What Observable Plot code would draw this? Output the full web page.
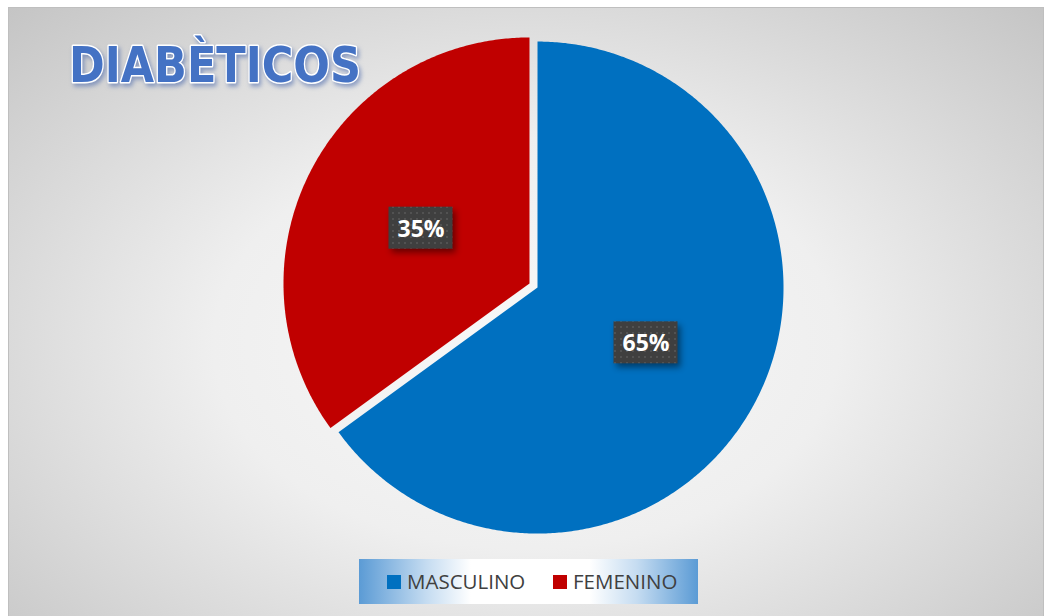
<!DOCTYPE html>
<html><head><meta charset="utf-8">
<script src="https://cdn.jsdelivr.net/npm/d3@7"></script>
<script src="https://cdn.jsdelivr.net/npm/@observablehq/plot@0.6"></script>
<style>
body{margin:0;background:#fff;}
#wrap{position:relative;width:1048px;height:616px;overflow:hidden;}
#bg{position:absolute;left:8px;top:7px;width:1036px;height:612px;border:1px solid #bfbfbf;box-sizing:border-box;
 background:radial-gradient(ellipse 72% 80% at 50% 55%, #f8f8f8 0%, #efefef 42%, #c3c3c3 100%);}
#chart{position:absolute;left:0;top:0;}
.lbl{filter:drop-shadow(3px 4px 3px rgba(0,0,0,0.45));}
#legend{position:absolute;left:359px;top:559px;width:339px;height:45px;
 background:linear-gradient(90deg,#5b9bd5 0%,#c5dcf1 20%,#fff 33%,#fff 68%,#c5dcf1 82%,#5b9bd5 100%);
 font-family:"Open Sans",sans-serif;font-size:20.5px;color:#404040;}
#legend .sw{position:absolute;top:16px;width:14px;height:14px;}
#legend .tx{position:absolute;top:0;line-height:45px;white-space:nowrap;}
</style></head>
<body>
<div id="wrap">
 <div id="bg"></div>
 <div id="chart"></div>
 <div id="legend"></div>
</div>
<script>
const categories = ["MASCULINO", "FEMENINO"];
const values = [65, 35];
const labels = ["65%", "35%"];
const colors = ["#0070c0", "#c00000"];
const title = "DIABÈTICOS";

const R = 246, CX = 533, CY = 285;
const explode = 4.5 / R;
const labelDist = 0.495;

const slices = d3.pie().sort(null).value(d => d.value)(
  categories.map((c, i) => ({cat: c, value: values[i], label: labels[i]})));

const pts = [];
const lab = [];
slices.forEach(s => {
  const mid = (s.startAngle + s.endAngle) / 2;
  const cx = explode * Math.sin(mid), cy = explode * Math.cos(mid);
  const cat = s.data.cat;
  pts.push({cat, x: cx, y: cy});
  const n = Math.ceil((s.endAngle - s.startAngle) / (Math.PI / 360));
  for (let k = 0; k <= n; k++) {
    const a = s.startAngle + (s.endAngle - s.startAngle) * k / n;
    pts.push({cat, x: cx + Math.sin(a), y: cy + Math.cos(a)});
  }
  pts.push({cat, x: cx, y: cy});
  lab.push({cat, label: s.data.label, x: cx + labelDist * Math.sin(mid), y: cy + labelDist * Math.cos(mid)});
});

const bw = 32 / R, bh = 21 / R;

const plot = Plot.plot({
  width: 1048, height: 616, margin: 0,
  x: {domain: [-1, 1], range: [CX - R, CX + R], axis: null},
  y: {domain: [-1, 1], range: [CY + R, CY - R], axis: null},
  color: {domain: categories, range: colors},
  style: {background: "transparent", overflow: "visible"},
  marks: [
    Plot.line(pts, {x: "x", y: "y", z: "cat", fill: "cat", stroke: "none", curve: "linear"}),
    Plot.rect(lab, {x1: d => d.x - bw, x2: d => d.x + bw, y1: d => d.y - bh, y2: d => d.y + bh,
      fill: "url(#dots)", className: "lbl"}),
    Plot.text(lab, {x: "x", y: "y", text: "label", fill: "white", fontSize: 23, fontWeight: "bold",
      fontFamily: "Open Sans", dy: 1})
  ]
});
document.getElementById("chart").appendChild(plot);

const svg = d3.select(plot);
const defs = svg.insert("defs", ":first-child");
const pat = defs.append("pattern").attr("id", "dots").attr("width", 6).attr("height", 6)
  .attr("patternUnits", "userSpaceOnUse");
pat.append("rect").attr("width", 6).attr("height", 6).attr("fill", "#3f3f3f");
pat.append("rect").attr("x", 2).attr("y", 2).attr("width", 2).attr("height", 2).attr("fill", "#525252");

svg.append("text")
  .attr("x", 69).attr("y", 82)
  .attr("text-anchor", "start")
  .attr("textLength", 292).attr("lengthAdjust", "spacingAndGlyphs")
  .attr("font-family", "DejaVu Sans").attr("font-weight", "bold").attr("font-size", 50)
  .attr("fill", "#4472c4").attr("stroke", "white").attr("stroke-width", 3)
  .attr("paint-order", "stroke").attr("stroke-linejoin", "round")
  .style("filter", "drop-shadow(2px 3px 2px rgba(70,100,170,0.55))")
  .text(title);

const legendPos = [{sw: 28, tx: 48}, {sw: 194, tx: 214}];
const lg = document.getElementById("legend");
categories.forEach((c, i) => {
  const sw = document.createElement("div");
  sw.className = "sw"; sw.style.left = legendPos[i].sw + "px"; sw.style.background = colors[i];
  const tx = document.createElement("div");
  tx.className = "tx"; tx.style.left = legendPos[i].tx + "px"; tx.textContent = c;
  lg.appendChild(sw); lg.appendChild(tx);
});
</script>
</body></html>
